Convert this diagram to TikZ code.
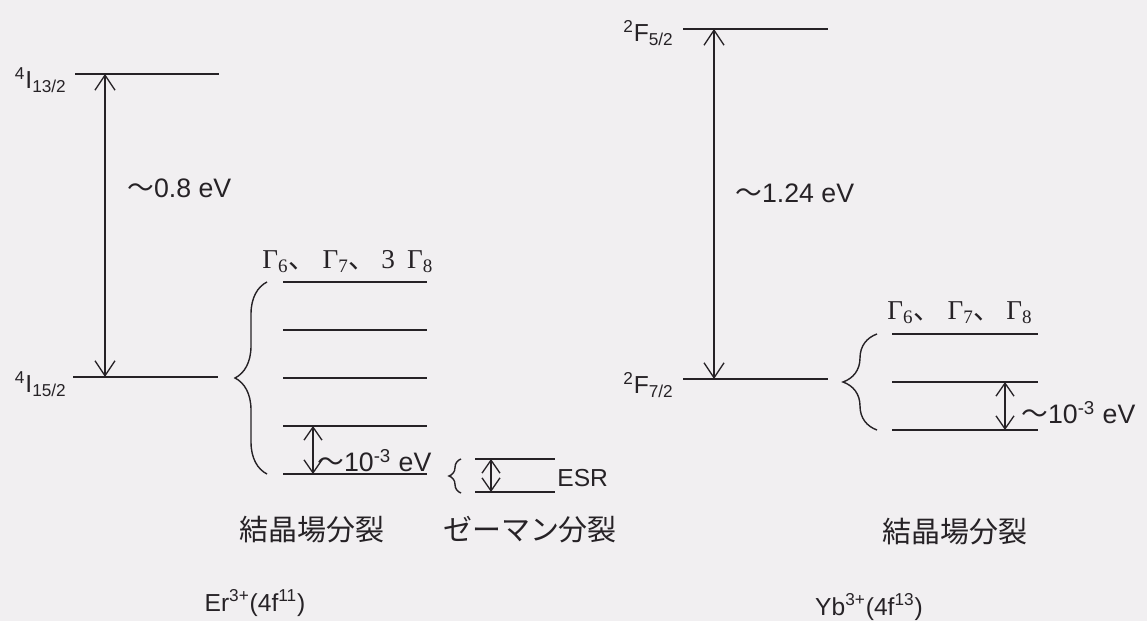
\documentclass[tikz,border=0pt]{standalone}
\usepackage{fontspec}
\setmainfont{Liberation Sans}
\newfontfamily\jfont{Noto Sans CJK JP}
\newfontfamily\gfont{Liberation Serif}
\usetikzlibrary{arrows.meta,decorations.pathreplacing}
\definecolor{paper}{RGB}{241,239,241}
\definecolor{ink}{RGB}{38,34,38}

\begin{document}
\begin{tikzpicture}[
  x=0.02cm, y=-0.02cm,
  lvl/.style={draw=ink,line width=0.9pt},
  gaparr/.style={draw=ink,line width=0.75pt,{Straight Barb[length=3mm,width=4mm]}-{Straight Barb[length=3mm,width=4mm]}},
  smallarr/.style={draw=ink,line width=0.75pt,{Straight Barb[length=2.6mm,width=3.6mm]}-{Straight Barb[length=2.6mm,width=3.6mm]}},
  brc/.style={draw=ink,line width=0.8pt,decorate,decoration={brace,amplitude=#1}},
  termlbl/.style={text=ink,inner sep=0pt,font=\fontsize{14}{16}\selectfont},
  evlbl/.style={text=ink,inner sep=0pt,font=\fontsize{15.2}{17}\selectfont},
  gamlbl/.style={text=ink,inner sep=0pt,font=\fontsize{15.5}{17}\selectfont},
  jlbl/.style={text=ink,inner sep=0pt,font=\fontsize{16.5}{18}\selectfont\jfont}
]
\path[use as bounding box,fill=paper] (0,0) rectangle (1147,621);
% ---------- Er3+ : free-ion levels ----------
\draw[lvl] (75,74) coordinate (erHiL) -- (219,74) coordinate (erHiR);
\draw[lvl] (73,377) coordinate (erLoL) -- (218,377) coordinate (erLoR);
\node[termlbl,anchor=east] (erHi) at (67,80) {\textsuperscript{4}I\textsubscript{13/2}};
\node[termlbl,anchor=east] (erLo) at (67,384) {\textsuperscript{4}I\textsubscript{15/2}};
\coordinate (erGapT) at (105,74);
\coordinate (erGapB) at (105,377);
\draw[gaparr] (erGapT) -- (erGapB);
\node[evlbl,anchor=west] (erGap) at (127,188) {{\jfont 〜}0.8 eV};
% ---------- Er3+ : crystal field ----------
\node[gamlbl,anchor=west] (erGam) at (262,262) {{\gfont Γ\textsubscript{6}}{\jfont 、}\hspace{0.25em}{\gfont Γ\textsubscript{7}}{\jfont 、}\hspace{0.2em}{\gfont 3\hspace{0.45em}Γ\textsubscript{8}}};
\draw[lvl] (283,282) -- (427,282);
\draw[lvl] (283,330) -- (427,330);
\draw[lvl] (283,378) -- (427,378);
\draw[lvl] (283,426) coordinate (erCfA) -- (427,426);
\draw[lvl] (283,474) coordinate (erCfB) -- (427,474);
\coordinate (erBrB) at (267,474);
\coordinate (erBrT) at (267,282);
\draw[brc=0.64cm] (erBrB) -- (erBrT);
\coordinate (erSmT) at (313,426);
\coordinate (erSmB) at (313,474);
\draw[smallarr] (erSmT) -- (erSmB);
\node[evlbl,anchor=west] (erSm) at (317,461) {{\jfont 〜}10\textsuperscript{-3} eV};
% ---------- Er3+ : Zeeman ----------
\coordinate (zBrB) at (461,493);
\coordinate (zBrT) at (461,459);
\draw[brc=0.24cm] (zBrB) -- (zBrT);
\draw[lvl] (475,459) -- (555,459);
\draw[lvl] (475,492) -- (555,492);
\coordinate (zT) at (491,459);
\coordinate (zB) at (491,492);
\draw[smallarr] (zT) -- (zB);
\node[termlbl,anchor=west] (esr) at (557,478) {ESR};
\node[jlbl] (erCf) at (312,530) {結晶場分裂};
\node[jlbl] (zee) at (530,530) {ゼーマン分裂};
\node[termlbl] (er) at (255,603) {Er\textsuperscript{3+}(4f\textsuperscript{11})};
% ---------- Yb3+ : free-ion levels ----------
\draw[lvl] (683,29) -- (828,29);
\draw[lvl] (683,379) -- (828,379);
\node[termlbl,anchor=east] (ybHi) at (674,33) {\textsuperscript{2}F\textsubscript{5/2}};
\node[termlbl,anchor=east] (ybLo) at (674,385) {\textsuperscript{2}F\textsubscript{7/2}};
\coordinate (ybGapT) at (714,29);
\coordinate (ybGapB) at (714,379);
\draw[gaparr] (ybGapT) -- (ybGapB);
\node[evlbl,anchor=west] (ybGap) at (735,193) {{\jfont 〜}1.24 eV};
% ---------- Yb3+ : crystal field ----------
\node[gamlbl,anchor=west] (ybGam) at (887,313) {{\gfont Γ\textsubscript{6}}{\jfont 、}\hspace{0.25em}{\gfont Γ\textsubscript{7}}{\jfont 、}\hspace{0.2em}{\gfont Γ\textsubscript{8}}};
\draw[lvl] (892,334) -- (1038,334);
\draw[lvl] (892,382) -- (1038,382);
\draw[lvl] (892,430) -- (1038,430);
\coordinate (ybBrB) at (877,430);
\coordinate (ybBrT) at (877,334);
\draw[brc=0.68cm] (ybBrB) -- (ybBrT);
\coordinate (ybSmT) at (1005,382);
\coordinate (ybSmB) at (1005,430);
\draw[smallarr] (ybSmT) -- (ybSmB);
\node[evlbl,anchor=west] (ybSm) at (1021,413) {{\jfont 〜}10\textsuperscript{-3} eV};
\node[jlbl] (ybCf) at (955,532) {結晶場分裂};
\node[termlbl] (yb) at (869,607) {Yb\textsuperscript{3+}(4f\textsuperscript{13})};
\end{tikzpicture}
\end{document}
